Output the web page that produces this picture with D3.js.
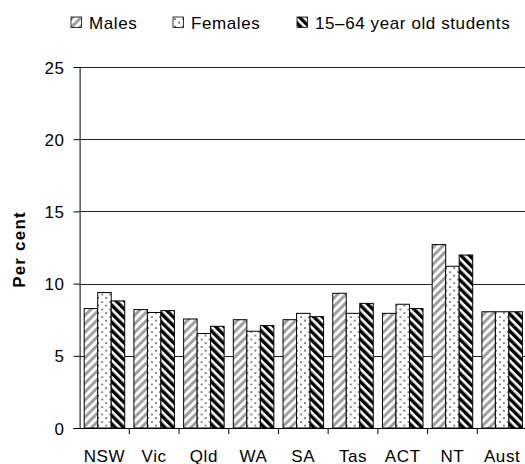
<!DOCTYPE html>
<html>
<head>
<meta charset="utf-8">
<script src="https://cdn.jsdelivr.net/npm/d3@7"></script>
<style>
  body { margin: 0; background: #fff; }
  svg text { font-family: "Liberation Sans", Arial, sans-serif; letter-spacing: 0.6px; }
</style>
</head>
<body>
<div id="chart"></div>
<script>
const states = ["NSW", "Vic", "Qld", "WA", "SA", "Tas", "ACT", "NT", "Aust"];
const seriesNames = ["Males", "Females", "15\u201364 year old students"];
const males    = [8.27, 8.2, 7.55, 7.5, 7.5, 9.33, 7.94, 12.7, 8.05];
const females  = [9.38, 8.0, 6.54, 6.7, 7.94, 7.94, 8.57, 11.2, 8.05];
const students = [8.8, 8.13, 7.04, 7.09, 7.71, 8.63, 8.27, 11.98, 8.05];
const yTicks = [0, 5, 10, 15, 20, 25];

const width = 525, height = 464;
const margin = {top: 67, left: 79.6, right: -2, bottom: 36};

const svg = d3.select("#chart").append("svg")
    .attr("width", width)
    .attr("height", height);

/* patterns */
const defs = svg.append("defs");

const pM = defs.append("pattern").attr("id", "pMales")
    .attr("patternUnits", "userSpaceOnUse")
    .attr("width", 6).attr("height", 6)
    .attr("patternTransform", "rotate(45)");
pM.append("rect").attr("width", 6).attr("height", 6).attr("fill", "#fff");
pM.append("rect").attr("width", 3).attr("height", 6).attr("fill", "#a0a0a0");

const pF = defs.append("pattern").attr("id", "pFemales")
    .attr("patternUnits", "userSpaceOnUse")
    .attr("width", 8).attr("height", 7.5);
pF.append("rect").attr("width", 8).attr("height", 7.5).attr("fill", "#fff");
pF.append("circle").attr("cx", 2).attr("cy", 2).attr("r", 0.9).attr("fill", "#444");
pF.append("circle").attr("cx", 6).attr("cy", 5.7).attr("r", 0.9).attr("fill", "#444");

const pS = defs.append("pattern").attr("id", "pStudents")
    .attr("patternUnits", "userSpaceOnUse")
    .attr("width", 6).attr("height", 6)
    .attr("patternTransform", "rotate(-45)");
pS.append("rect").attr("width", 6).attr("height", 6).attr("fill", "#fff");
pS.append("rect").attr("width", 3.4).attr("height", 6).attr("fill", "#000");

const fills = ["url(#pMales)", "url(#pFemales)", "url(#pStudents)"];

const data = states.map((s, i) => ({state: s, values: [males[i], females[i], students[i]]}));

const xScale = d3.scaleBand()
    .domain(states)
    .range([margin.left, width - margin.right])
    .paddingInner(0).paddingOuter(0);

const xInner = d3.scaleBand()
    .domain(d3.range(3))
    .range([0, xScale.bandwidth() * 0.815])
    .padding(0);

const yScale = d3.scaleLinear()
    .domain([0, 25])
    .range([height - margin.bottom, margin.top]);

/* gridlines */
svg.append("g")
    .selectAll("line")
    .data(yTicks.filter(d => d > 0))
    .enter()
    .append("line")
        .attr("x1", margin.left)
        .attr("x2", width)
        .attr("y1", d => Math.round(yScale(d)) + 0.5)
        .attr("y2", d => Math.round(yScale(d)) + 0.5)
        .attr("stroke", "#222")
        .attr("stroke-width", 1);

/* bars */
const groupOffset = (xScale.bandwidth() - xInner.range()[1]) / 2;
const groups = svg.append("g").selectAll("g")
    .data(data)
    .enter()
    .append("g")
    .attr("transform", d => `translate(${xScale(d.state) + groupOffset},0)`);

groups.selectAll("rect")
    .data(d => d.values)
    .enter()
    .append("rect")
        .attr("x", (d, i) => xInner(i))
        .attr("y", d => yScale(d))
        .attr("width", xInner.bandwidth())
        .attr("height", d => yScale(0) - yScale(d))
        .attr("fill", (d, i) => fills[i])
        .attr("stroke", "#000")
        .attr("stroke-width", 1);

/* axes */
const yAxis = svg.append("g")
    .attr("transform", `translate(${margin.left},0)`)
    .call(d3.axisLeft(yScale).tickValues(yTicks).tickSize(6).tickPadding(9));
yAxis.selectAll("text").attr("font-size", 17).attr("fill", "#000").attr("dy", "0.36em");
yAxis.selectAll("line").attr("stroke", "#000");
yAxis.select(".domain").attr("stroke", "#000");

const xAxis = svg.append("g")
    .attr("transform", `translate(0,${yScale(0)})`);
xAxis.append("line")
    .attr("x1", margin.left - 6).attr("x2", width)
    .attr("y1", 0.5).attr("y2", 0.5)
    .attr("stroke", "#000");
xAxis.selectAll(".tk")
    .data(states.slice(1))
    .enter()
    .append("line")
        .attr("x1", d => xScale(d)).attr("x2", d => xScale(d))
        .attr("y1", 0).attr("y2", 6)
        .attr("stroke", "#000");
xAxis.selectAll(".lb")
    .data(states)
    .enter()
    .append("text")
        .attr("x", d => xScale(d) + xScale.bandwidth() / 2)
        .attr("y", 33.5)
        .attr("text-anchor", "middle")
        .attr("font-size", 17)
        .text(d => d);

svg.append("text")
    .attr("transform", `translate(25,${(margin.top + yScale(0)) / 2 + 2}) rotate(-90)`)
    .attr("text-anchor", "middle")
    .attr("font-size", 17)
    .attr("font-weight", "bold")
    .style("letter-spacing", "1.2px")
    .text("Per cent");

/* legend */
const legendX = [71, 173, 297];
const legend = svg.append("g").selectAll("g")
    .data(seriesNames)
    .enter()
    .append("g")
    .attr("transform", (d, i) => `translate(${legendX[i]},17)`);
legend.append("rect")
    .attr("width", 10.5).attr("height", 10.5)
    .attr("fill", (d, i) => fills[i])
    .attr("stroke", "#000").attr("stroke-width", 0.8);
legend.append("text")
    .attr("x", 18).attr("y", 12.3)
    .attr("font-size", 17)
    .text(d => d);
</script>
</body>
</html>
